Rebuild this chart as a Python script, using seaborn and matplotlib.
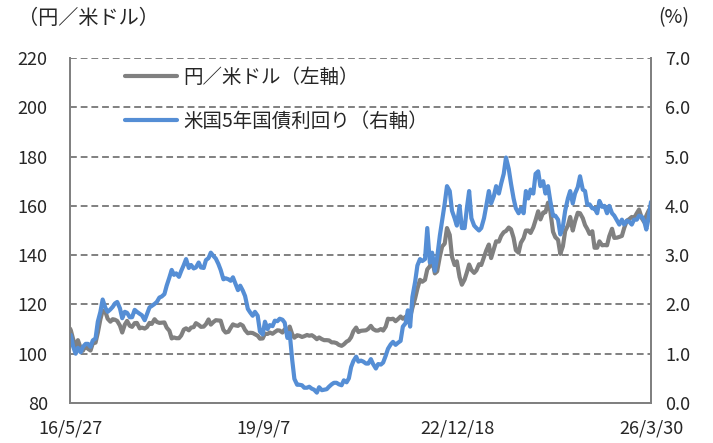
import pandas as pd
import matplotlib.pyplot as plt
import seaborn as sns

# 円／米ドル（毎月1日・15日ごろの値を図から読み取り）
usdjpy_2016 = [110.2, 109.5, 106.0, 102.5, 105.5, 102.3, 101.2, 103.4, 102.0, 101.3, 104.2, 104.5, 108.5, 114.0, 117.5]
usdjpy_2017 = [117.0, 114.2, 113.0, 114.0, 113.8, 113.3, 111.4, 108.6, 111.8, 113.3, 111.3, 110.9,
               112.4, 112.5, 110.3, 110.6, 110.2, 110.8, 112.5, 112.1, 114.0, 112.9, 112.5, 112.6]
usdjpy_2018 = [112.7, 110.6, 109.3, 106.2, 106.6, 106.3, 106.3, 107.4, 109.8, 110.3, 109.5, 110.6,
               110.8, 112.4, 111.7, 110.9, 111.0, 112.0, 113.9, 111.8, 112.9, 113.6, 113.5, 113.4]
usdjpy_2019 = [109.7, 108.6, 108.9, 110.5, 111.9, 111.5, 111.3, 112.0, 111.4, 109.6, 108.3, 108.5,
               108.4, 107.9, 107.3, 106.1, 106.2, 108.1, 108.0, 108.6, 108.1, 108.8, 109.5, 109.4]
usdjpy_2020 = [108.6, 109.9, 108.6, 111.0, 108.0, 106.5, 107.5, 107.3, 106.8, 107.1, 107.6, 107.3,
               107.5, 106.9, 105.9, 106.6, 105.9, 105.5, 105.5, 105.4, 104.6, 104.6, 104.3, 103.6]
usdjpy_2021 = [103.2, 103.8, 104.9, 105.4, 106.7, 109.1, 110.6, 108.8, 109.3, 109.4, 109.5, 110.1,
               111.3, 110.0, 109.4, 109.4, 110.0, 109.4, 111.0, 114.2, 114.0, 114.2, 113.2, 114.0]
usdjpy_2022 = [115.1, 114.2, 115.0, 115.5, 114.9, 118.6, 122.5, 126.4, 130.0, 129.2, 130.0, 134.2,
               135.5, 138.5, 132.6, 133.4, 139.5, 143.5, 144.7, 151.0, 148.2, 139.3, 136.0, 137.5]
usdjpy_2023 = [131.1, 128.0, 130.1, 133.0, 136.2, 134.0, 132.8, 133.8, 136.3, 136.0, 139.3, 141.9,
               144.3, 138.8, 142.6, 145.6, 145.5, 147.8, 149.3, 149.8, 151.2, 150.5, 147.0, 142.0]
usdjpy_2024 = [141.0, 145.0, 146.9, 150.0, 150.0, 149.0, 151.3, 154.2, 157.8, 154.5, 157.3, 157.4,
               161.3, 158.0, 149.5, 147.3, 146.2, 140.5, 143.6, 149.8, 152.0, 155.5, 150.0, 153.7]
usdjpy_2025 = [157.2, 157.0, 155.0, 152.2, 150.6, 148.6, 149.7, 143.0, 143.0, 145.6, 144.0, 144.1,
               144.0, 147.7, 150.7, 147.0, 147.1, 147.4, 147.8, 151.0, 154.0, 154.6, 155.5, 155.0]
usdjpy_2026 = [157.0, 158.5, 155.0, 153.5, 156.0, 158.0, 159.5]

# 米国5年国債利回り（%）
us5y_2016 = [1.37, 1.38, 1.15, 1.00, 1.12, 1.03, 1.14, 1.20, 1.20, 1.14, 1.27, 1.31, 1.65, 1.85, 2.10]
us5y_2017 = [1.93, 1.85, 1.90, 1.95, 2.02, 2.05, 1.92, 1.72, 1.85, 1.83, 1.74, 1.74,
             1.89, 1.85, 1.81, 1.78, 1.68, 1.80, 1.94, 1.97, 2.01, 2.05, 2.14, 2.16]
us5y_2018 = [2.21, 2.38, 2.55, 2.70, 2.60, 2.63, 2.56, 2.68, 2.80, 2.92, 2.74, 2.80,
             2.73, 2.75, 2.85, 2.75, 2.74, 2.90, 2.94, 3.05, 2.98, 2.93, 2.82, 2.70]
us5y_2019 = [2.51, 2.53, 2.51, 2.48, 2.55, 2.43, 2.29, 2.38, 2.28, 2.17, 1.91, 1.84,
             1.77, 1.85, 1.77, 1.45, 1.39, 1.65, 1.50, 1.58, 1.56, 1.67, 1.66, 1.71]
us5y_2020 = [1.69, 1.63, 1.32, 1.42, 0.89, 0.49, 0.37, 0.37, 0.36, 0.31, 0.31, 0.33,
             0.29, 0.27, 0.21, 0.32, 0.26, 0.27, 0.28, 0.33, 0.38, 0.41, 0.41, 0.38]
us5y_2021 = [0.36, 0.46, 0.42, 0.50, 0.73, 0.85, 0.94, 0.84, 0.86, 0.84, 0.80, 0.80,
             0.89, 0.79, 0.70, 0.79, 0.78, 0.82, 0.96, 1.10, 1.19, 1.24, 1.18, 1.22]
us5y_2022 = [1.26, 1.55, 1.62, 1.88, 1.55, 2.15, 2.46, 2.79, 2.92, 2.88, 2.92, 3.55,
             2.85, 3.05, 2.68, 2.95, 3.40, 3.70, 4.05, 4.40, 4.30, 3.90, 3.75, 3.60]
us5y_2023 = [4.00, 3.55, 3.55, 3.95, 4.30, 3.75, 3.60, 3.55, 3.50, 3.55, 3.75, 4.00,
             4.30, 4.05, 4.20, 4.40, 4.25, 4.45, 4.65, 4.98, 4.75, 4.45, 4.15, 3.95]
us5y_2024 = [3.85, 3.95, 3.85, 4.30, 4.15, 4.33, 4.25, 4.65, 4.70, 4.40, 4.50, 4.25,
             4.40, 4.10, 3.80, 3.80, 3.72, 3.42, 3.58, 3.90, 4.15, 4.30, 4.05, 4.25]
us5y_2025 = [4.38, 4.60, 4.33, 4.30, 4.02, 4.03, 3.95, 3.95, 3.85, 4.10, 3.98, 4.00,
             3.85, 4.00, 3.85, 3.80, 3.70, 3.62, 3.72, 3.62, 3.70, 3.68, 3.62, 3.72]
us5y_2026 = [3.72, 3.80, 3.78, 3.70, 3.52, 3.75, 4.08]

tick_dates = ["2016-05-27", "2019-09-07", "2022-12-18", "2026-03-30"]
tick_labels = ["16/5/27", "19/9/7", "22/12/18", "26/3/30"]
left_ticks = [80, 100, 120, 140, 160, 180, 200, 220]
right_ticks = [0.0, 1.0, 2.0, 3.0, 4.0, 5.0, 6.0, 7.0]

usdjpy = (usdjpy_2016 + usdjpy_2017 + usdjpy_2018 + usdjpy_2019 + usdjpy_2020 + usdjpy_2021
          + usdjpy_2022 + usdjpy_2023 + usdjpy_2024 + usdjpy_2025 + usdjpy_2026)
us5y = (us5y_2016 + us5y_2017 + us5y_2018 + us5y_2019 + us5y_2020 + us5y_2021
        + us5y_2022 + us5y_2023 + us5y_2024 + us5y_2025 + us5y_2026)

dates = ([pd.Timestamp("2016-05-27")]
         + list(pd.date_range("2016-06-01", "2026-03-15", freq="SMS"))
         + [pd.Timestamp("2026-03-30")])
df = pd.DataFrame({"date": dates, "usdjpy": usdjpy, "us5y": us5y})

sns.set_style("white")
plt.rcParams["font.family"] = ["Noto Sans CJK JP", "DejaVu Sans"]

gray = "#808080"
blue = "#558ed5"

fig = plt.figure(figsize=(7.13, 4.43), dpi=100)
ax = fig.add_axes([70 / 713, 1 - 403 / 443, 581 / 713, 345 / 443])
ax2 = ax.twinx()

sns.lineplot(data=df, x="date", y="usdjpy", ax=ax, color=gray, linewidth=3.0,
             label="円／米ドル（左軸）", legend=False)
sns.lineplot(data=df, x="date", y="us5y", ax=ax2, color=blue, linewidth=3.0,
             label="米国5年国債利回り（右軸）", legend=False)

ax.set_xlim(pd.Timestamp(tick_dates[0]), pd.Timestamp(tick_dates[-1]))
ax.set_ylim(80, 220)
ax2.set_ylim(0, 7)
ax.set_yticks(left_ticks)
ax.set_yticklabels([str(v) for v in left_ticks])
ax2.set_yticks(right_ticks)
ax2.set_yticklabels([f"{v:.1f}" for v in right_ticks])
ax.set_xticks([pd.Timestamp(d) for d in tick_dates])
ax.set_xticklabels(tick_labels)
ax.set_xlabel("")
ax.set_ylabel("")
ax2.set_ylabel("")

ax.yaxis.grid(True, color=gray, linestyle=(0, (3.5, 2)), linewidth=1.4)
ax.set_axisbelow(True)

for a in (ax, ax2):
    for side in ("left", "right", "bottom"):
        a.spines[side].set_color(gray)
        a.spines[side].set_linewidth(1.3)
    a.spines["top"].set_visible(False)

ax.tick_params(axis="y", length=0, pad=16, labelsize=13)
ax2.tick_params(axis="y", length=0, pad=10, labelsize=13)
ax.tick_params(axis="x", direction="in", length=5, color=gray, width=1.3, pad=12, labelsize=13)

fig.text(18 / 713, 1 - 18 / 443, "（円／米ドル）", fontsize=14.5, va="center", ha="left")
fig.text(658 / 713, 1 - 18 / 443, "(%)", fontsize=14, va="center", ha="left")

h1, l1 = ax.get_legend_handles_labels()
h2, l2 = ax2.get_legend_handles_labels()
ax2.legend(h1 + h2, l1 + l2, loc="upper left", bbox_to_anchor=(0.094, 0.975),
           frameon=False, fontsize=14, handlelength=2.7, handletextpad=0.3,
           labelspacing=1.2, borderpad=0, borderaxespad=0)

fig.savefig("out.png", dpi=100)
